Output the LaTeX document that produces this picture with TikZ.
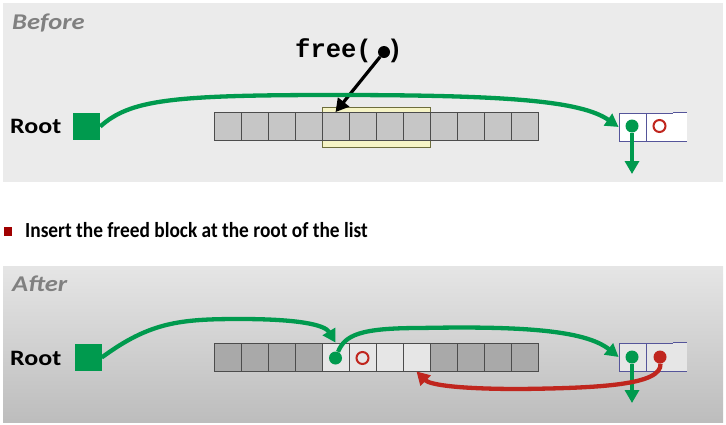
\documentclass[tikz,border=0pt]{standalone}
\usepackage{fontspec}
\setmainfont{Carlito}
\newfontfamily\wideface{Carlito}[FakeStretch=1.18]
\newfontfamily\narrowface{Carlito}[FakeStretch=0.9]
\setmonofont{Liberation Mono}
\usepackage{xcolor}
\usepackage{tikz}
\usetikzlibrary{arrows.meta}
\definecolor{flgreen}{HTML}{009A4E}
\definecolor{flred}{HTML}{C0261E}
\definecolor{flmaroon}{HTML}{A00000}
\definecolor{flpanel}{HTML}{EBEBEB}
\definecolor{flcell}{HTML}{C6C6C6}
\definecolor{fldark}{HTML}{A9A9A9}
\definecolor{fllight}{HTML}{E6E6E6}
\definecolor{flblue}{HTML}{55559A}
\definecolor{flhilite}{HTML}{F6F4C6}
\definecolor{flolive}{HTML}{6E6E3C}

\begin{document}
\begin{tikzpicture}[x=1pt, y=-1pt,
  cell/.style={draw=black!70, line width=0.8pt, minimum width=27pt, minimum height=28pt, inner sep=0pt},
  rcell/.style={draw=flblue, line width=0.8pt, minimum width=27pt, minimum height=28pt, inner sep=0pt},
  rootsq/.style={fill=flgreen, minimum width=27pt, minimum height=27pt, inner sep=0pt},
  gdot/.style={circle, fill=flgreen, minimum size=13pt, inner sep=0pt},
  rdot/.style={circle, fill=flred, minimum size=13pt, inner sep=0pt},
  rring/.style={circle, draw=flred, line width=2pt, minimum size=12pt, inner sep=0pt},
  garrow/.style={draw=flgreen, line width=4.3pt, -{Triangle[length=13pt,width=14pt]}},
  rarrow/.style={draw=flred, line width=4.3pt, -{Triangle[length=13pt,width=14pt]}},
  panelname/.style={anchor=base west, inner sep=0pt, text=black!50, font=\wideface\fontsize{22.5}{26}\selectfont\bfseries\itshape},
  rootname/.style={anchor=base west, inner sep=0pt, font=\wideface\fontsize{22}{26}\selectfont\bfseries}]
  \useasboundingbox (0,0) rectangle (726,424);
  % before panel
  \fill[flpanel] (3,3) rectangle (723,182);
  \node[panelname] (before) at (12,29) {Before};
  \node[rootname] (rootA) at (10,133) {Root};
  \node[rootsq] (sqA) at (86.5,126.5) {};
  \node[draw=flolive, line width=0.6pt, fill=flhilite, minimum width=108pt, minimum height=40pt, inner sep=0pt] (hl) at (376.5,127) {};
  \node[cell, fill=flcell] (a1) at (227.5,126.5) {};
  \node[cell, fill=flcell] (a2) at (254.5,126.5) {};
  \node[cell, fill=flcell] (a3) at (281.5,126.5) {};
  \node[cell, fill=flcell] (a4) at (308.5,126.5) {};
  \node[cell, fill=flcell] (a5) at (335.5,126.5) {};
  \node[cell, fill=flcell] (a6) at (362.5,126.5) {};
  \node[cell, fill=flcell] (a7) at (389.5,126.5) {};
  \node[cell, fill=flcell] (a8) at (416.5,126.5) {};
  \node[cell, fill=flcell] (a9) at (443.5,126.5) {};
  \node[cell, fill=flcell] (a10) at (470.5,126.5) {};
  \node[cell, fill=flcell] (a11) at (497.5,126.5) {};
  \node[cell, fill=flcell] (a12) at (524.5,126.5) {};
  \node[rcell, fill=white] (ra1) at (632.5,127) {};
  \node[rcell, fill=white] (ra2) at (659.5,127) {};
  \node[fill=white, minimum width=14pt, minimum height=28pt, inner sep=0pt] (ra3) at (680,127) {};
  \draw[flblue, line width=0.8pt] (ra3.north west) -- (ra3.north east) (ra3.south west) -- (ra3.south east);
  \node[gdot] (dA) at (632,126) {};
  \node[rring] (oA) at (659.5,126) {};
  \coordinate (dAend) at (632,174);
  \node[anchor=base west, inner sep=0pt, font=\fontsize{25.5}{30}\selectfont\ttfamily\bfseries] (freecall) at (295,57) {free(\phantom{x})};
  \node[circle, fill=black, minimum size=12pt, inner sep=0pt] (freeptr) at (384,52) {};
  \draw[black, line width=3.2pt, -{Triangle[length=13pt,width=14pt]}] (freeptr) -- (a5.north);
  \draw[garrow] (sqA.east) .. controls (130,100) and (170,95) .. (333,95) .. controls (500,95) and (580,100) .. (ra1.west);
  \draw[garrow] (dA) -- (dAend);
  % bullet line
  \node[fill=flmaroon, minimum width=8pt, minimum height=9pt, inner sep=0pt] (bul) at (8,231.5) {};
  \node[anchor=base west, inner sep=0pt, font=\narrowface\fontsize{21.5}{25}\selectfont\bfseries] (note) at (25,237) {Insert the freed block at the root of the list};
  % after panel
  \shade[top color=black!10, bottom color=black!26] (3,266) rectangle (723,422);
  \node[panelname] (after) at (12,291) {After};
  \node[rootname] (rootB) at (10,365) {Root};
  \node[rootsq] (sqB) at (88,357.5) {};
  \node[cell, fill=fldark] (b1) at (227.5,357) {};
  \node[cell, fill=fldark] (b2) at (254.5,357) {};
  \node[cell, fill=fldark] (b3) at (281.5,357) {};
  \node[cell, fill=fldark] (b4) at (308.5,357) {};
  \node[cell, fill=fllight] (b5) at (335.5,357) {};
  \node[cell, fill=fllight] (b6) at (362.5,357) {};
  \node[cell, fill=fllight] (b7) at (389.5,357) {};
  \node[cell, fill=fllight] (b8) at (416.5,357) {};
  \node[cell, fill=fldark] (b9) at (443.5,357) {};
  \node[cell, fill=fldark] (b10) at (470.5,357) {};
  \node[cell, fill=fldark] (b11) at (497.5,357) {};
  \node[cell, fill=fldark] (b12) at (524.5,357) {};
  \node[rcell, fill=fllight] (rb1) at (632.5,357) {};
  \node[rcell, fill=fllight] (rb2) at (659.5,357) {};
  \node[fill=fllight, minimum width=14pt, minimum height=28pt, inner sep=0pt] (rb3) at (680,357) {};
  \draw[flblue, line width=0.8pt] (rb3.north west) -- (rb3.north east) (rb3.south west) -- (rb3.south east);
  \node[gdot] (dB) at (335.5,358) {};
  \node[rring] (oB) at (362.5,358) {};
  \node[gdot] (dC) at (632,357) {};
  \node[rdot] (rC) at (660,357) {};
  \coordinate (dCend) at (632,403);
  \draw[garrow] (sqB.east) .. controls (150,322) and (180,319) .. (240,319) .. controls (300,319) and (325,325) .. (b5.north);
  \draw[garrow] (dB) .. controls (345,335) and (360,328) .. (420,328) .. controls (520,326) and (585,330) .. (rb1.west);
  \draw[garrow] (dC) -- (dCend);
  \draw[rarrow] (rC) .. controls (662,385) and (600,388) .. (520,389) .. controls (460,389) and (430,385) .. (b8.south);
\end{tikzpicture}
\end{document}
